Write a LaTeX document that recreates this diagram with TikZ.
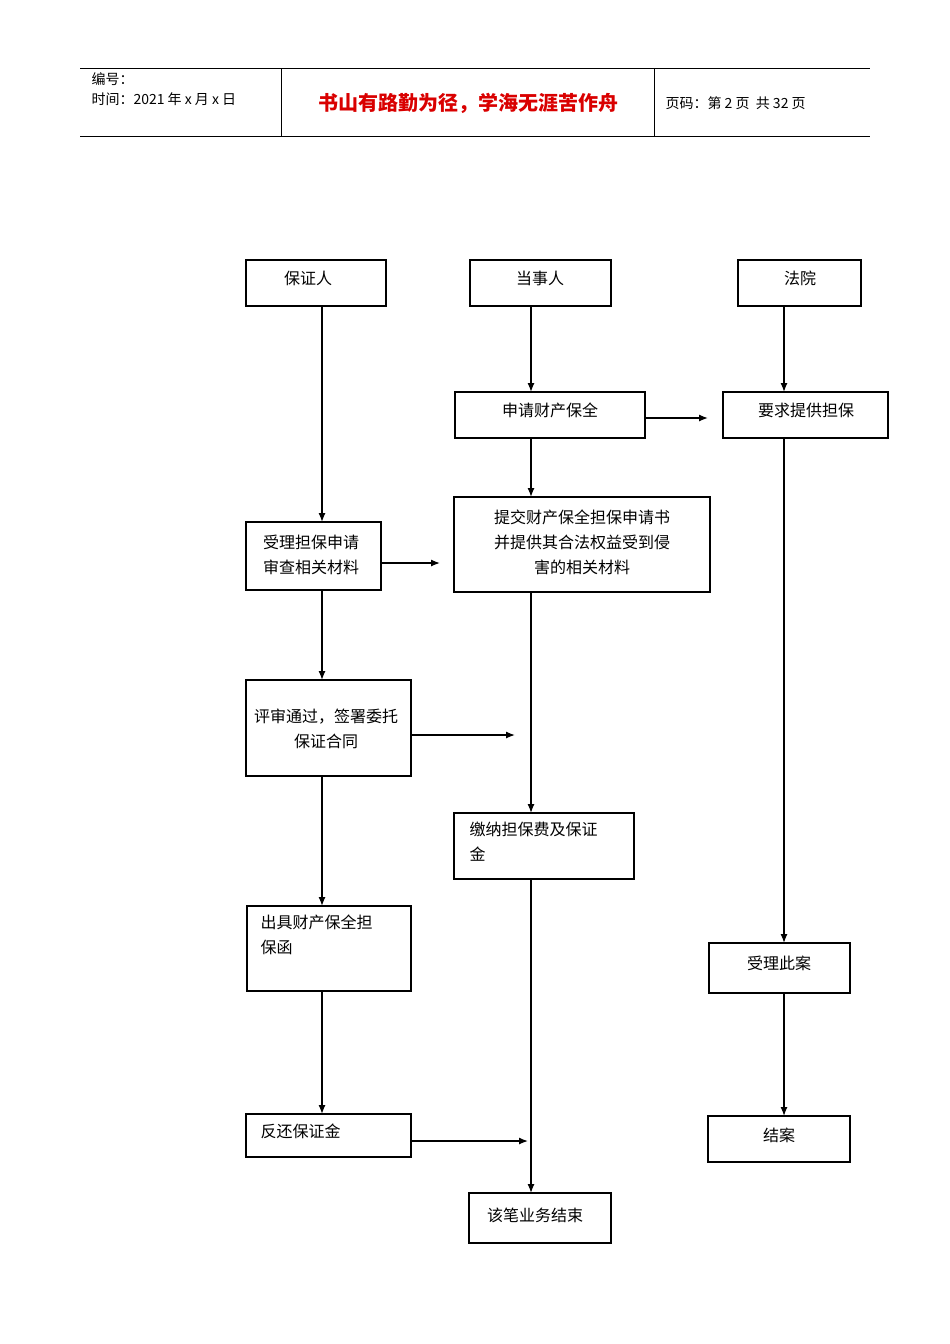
\documentclass[tikz,border=0pt]{standalone}
\usepackage{fontspec}
\setmainfont{Noto Sans CJK SC}
\newfontfamily\cjk{Noto Sans CJK SC}
\usetikzlibrary{arrows.meta}
\begin{document}
\begin{tikzpicture}[x=1pt,y=-1pt,
  bx/.style={draw,line width=1.8pt,inner sep=0pt},
  ar/.style={-{Latex[length=9pt,width=7pt]},line width=1.3pt},
  lab/.style={font=\fontsize{16}{25}\selectfont,align=center},
  llab/.style={font=\fontsize{16}{25}\selectfont,align=left,anchor=north west}]
\useasboundingbox (0,0) rectangle (950,1344);
% header
\draw[line width=0.6pt] (80,68) -- (870,68) (80,136) -- (870,136) (281,68) -- (281,136) (654,68) -- (654,136);
\node[anchor=west,font=\fontsize{14}{16}\selectfont] (h1) at (88,79) {编号：};
\node[anchor=west,font=\fontsize{14}{16}\selectfont] (h2) at (88,99) {时间：2021 年 x 月 x 日};
\node[font=\fontsize{20}{22}\selectfont\bfseries,text=red!85!black] (h3) at (468,103) {书山有路勤为径，学海无涯苦作舟};
\node[anchor=west,font=\fontsize{14}{16}\selectfont] (h4) at (662,103) {页码：第 2 页\ \ 共 32 页};
% boxes
\draw[bx] (246,260) rectangle (386,306); \node[lab] (a1) at (308,278) {保证人};
\draw[bx] (470,260) rectangle (611,306); \node[lab] (b1) at (540,278) {当事人};
\draw[bx] (738,260) rectangle (861,306); \node[lab] (c1) at (800,278) {法院};
\draw[bx] (455,392) rectangle (645,438); \node[lab] (b2) at (550,410) {申请财产保全};
\draw[bx] (723,392) rectangle (888,438); \node[lab] (c2) at (806,410) {要求提供担保};
\draw[bx] (246,522) rectangle (381,590); \node[lab] (a2) at (311,555) {受理担保申请\\审查相关材料};
\draw[bx] (454,497) rectangle (710,592); \node[lab] (b3) at (582,542) {提交财产保全担保申请书\\并提供其合法权益受到侵\\害的相关材料};
\draw[bx] (246,680) rectangle (411,776); \node[lab] (a3) at (326,729) {评审通过，签署委托\\保证合同};
\draw[bx] (454,813) rectangle (634,879); \node[llab] (b4) at (466,818) {缴纳担保费及保证\\金};
\draw[bx] (247,906) rectangle (411,991); \node[llab] (a4) at (257,911) {出具财产保全担\\保函};
\draw[bx] (709,943) rectangle (850,993); \node[lab] (c3) at (779,963) {受理此案};
\draw[bx] (246,1114) rectangle (411,1157); \node[llab] (a5) at (257,1120) {反还保证金};
\draw[bx] (708,1116) rectangle (850,1162); \node[lab] (c4) at (779,1135) {结案};
\draw[bx] (469,1193) rectangle (611,1243); \node[lab] (b5) at (535,1215) {该笔业务结束};
% arrows
\coordinate (p1) at (322,306); \coordinate (p2) at (322,522);
\coordinate (p3) at (322,590); \coordinate (p4) at (322,680);
\coordinate (p5) at (322,776); \coordinate (p6) at (322,906);
\coordinate (p7) at (322,991); \coordinate (p8) at (322,1114);
\draw[ar] (p1) -- (p2); \draw[ar] (p3) -- (p4); \draw[ar] (p5) -- (p6); \draw[ar] (p7) -- (p8);
\coordinate (q1) at (531,306); \coordinate (q2) at (531,392);
\coordinate (q3) at (531,438); \coordinate (q4) at (531,497);
\coordinate (q5) at (531,592); \coordinate (q6) at (531,813);
\coordinate (q7) at (531,879); \coordinate (q8) at (531,1193);
\draw[ar] (q1) -- (q2); \draw[ar] (q3) -- (q4); \draw[ar] (q5) -- (q6); \draw[ar] (q7) -- (q8);
\coordinate (r1) at (784,306); \coordinate (r2) at (784,392);
\coordinate (r3) at (784,438); \coordinate (r4) at (784,943);
\coordinate (r5) at (784,993); \coordinate (r6) at (784,1116);
\draw[ar] (r1) -- (r2); \draw[ar] (r3) -- (r4); \draw[ar] (r5) -- (r6);
\coordinate (s1) at (645,418); \coordinate (s2) at (708,418);
\coordinate (s3) at (381,563); \coordinate (s4) at (440,563);
\coordinate (s5) at (411,735); \coordinate (s6) at (515,735);
\coordinate (s7) at (411,1141); \coordinate (s8) at (528,1141);
\draw[ar] (s1) -- (s2); \draw[ar] (s3) -- (s4); \draw[ar] (s5) -- (s6); \draw[ar] (s7) -- (s8);
\end{tikzpicture}
\end{document}
